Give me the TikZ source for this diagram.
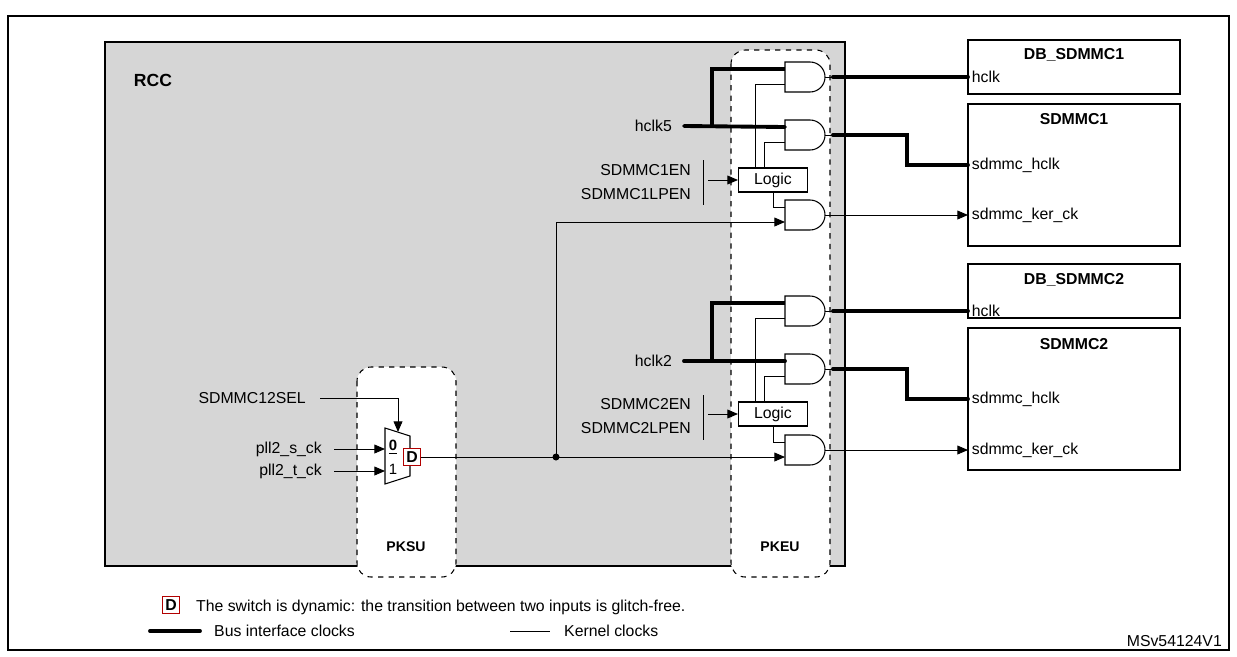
\documentclass[tikz,border=0pt]{standalone}
\usepackage{fontspec}
\setmainfont{Liberation Sans}
\usetikzlibrary{arrows.meta, positioning}

% and gate drawn at left edge x, centre y; named coordinates for pins
\newcommand{\andgate}[3]{%
  \draw[fill=white,line width=0.6pt] (#2,#3-15) -- (#2+25,#3-15) arc[start angle=-90,end angle=90,radius=15] -- (#2,#3+15) -- cycle;
  \coordinate (#1a) at (#2,#3-8);
  \coordinate (#1b) at (#2,#3+7);
  \coordinate (#1o) at (#2+40,#3);
}

\begin{document}
\begin{tikzpicture}[x=0.02cm,y=-0.02cm,font=\fontsize{9}{10.8}\selectfont,
    bus/.style={line width=2.2pt},
    kern/.style={line width=0.5pt},
    arr/.style={-{Triangle[length=6pt,width=5pt]}},
    blk/.style={draw,line width=0.8pt,fill=white},
    unit/.style={draw,dashed,rounded corners=8pt,fill=white,line width=0.6pt},
    dbox/.style={draw=red!70!black,line width=0.8pt,fill=white,inner sep=1pt,minimum size=10pt,font=\fontsize{9}{10}\selectfont\bfseries}]
   \useasboundingbox (0,0) rectangle (1237,656);
   \draw[line width=0.6pt] (8,16) rectangle (1229,650);

   % RCC block and units
   \draw[line width=0.8pt,fill=black!16] (105,42) rectangle (845,566);
   \node[font=\fontsize{10}{11}\selectfont\bfseries] (rcc) at (153,80) {RCC};
   \draw[unit] (731,50) rectangle (830,577);
   \draw[unit] (357,367) rectangle (456,577);
   \node[font=\fontsize{8}{9}\selectfont\bfseries] (pkeu) at (780,547) {PKEU};
   \node[font=\fontsize{8}{9}\selectfont\bfseries] (pksu) at (406,547) {PKSU};

   % peripheral boxes
   \draw[blk] (968,40) rectangle (1180,94);
   \draw[blk] (968,104) rectangle (1180,246);
   \draw[blk] (968,264) rectangle (1180,318);
   \draw[blk] (968,328) rectangle (1180,470);
   \node[font=\fontsize{9}{10}\selectfont\bfseries] (db1) at (1074,55) {DB\_SDMMC1};
   \node[font=\fontsize{9}{10}\selectfont\bfseries] (sd1) at (1074,119) {SDMMC1};
   \node[font=\fontsize{9}{10}\selectfont\bfseries] (db2) at (1074,280) {DB\_SDMMC2};
   \node[font=\fontsize{9}{10}\selectfont\bfseries] (sd2) at (1074,344) {SDMMC2};
   \node[anchor=west,inner sep=2pt] (h1) at (968,77) {hclk};
   \node[anchor=west,inner sep=2pt] (sh1) at (968,165) {sdmmc\_hclk};
   \node[anchor=west,inner sep=2pt] (sk1) at (968,215) {sdmmc\_ker\_ck};
   \node[anchor=west,inner sep=2pt] (h2) at (968,311) {hclk};
   \node[anchor=west,inner sep=2pt] (sh2) at (968,399) {sdmmc\_hclk};
   \node[anchor=west,inner sep=2pt] (sk2) at (968,450) {sdmmc\_ker\_ck};

   % gates
   \andgate{g1}{785}{77}
   \andgate{g2}{785}{135}
   \andgate{g3}{785}{215}
   \andgate{g4}{785}{311}
   \andgate{g5}{785}{369}
   \andgate{g6}{785}{450}

   % logic blocks and enables
   \node[blk,line width=0.6pt,minimum width=1.38cm,minimum height=0.48cm,inner sep=1pt] (log1) at (773,180) {Logic};
   \node[blk,line width=0.6pt,minimum width=1.38cm,minimum height=0.48cm,inner sep=1pt] (log2) at (773,414) {Logic};
   \node[anchor=east] (en1) at (697,170) {SDMMC1EN};
   \node[anchor=east] (lp1) at (697,194) {SDMMC1LPEN};
   \node[anchor=east] (en2) at (697,404) {SDMMC2EN};
   \node[anchor=east] (lp2) at (697,428) {SDMMC2LPEN};
   \draw[kern] (703,160) -- (703,205);
   \draw[kern] (703,395) -- (703,440);
   \coordinate (b1) at (708,180);
   \coordinate (b2) at (708,414);
   \draw[kern,arr] (b1) -- (log1.west);
   \draw[kern,arr] (b2) -- (log2.west);

   % bus clocks
   \node[anchor=east] (hclk5) at (678,126) {hclk5};
   \node[anchor=east] (hclk2) at (678,361) {hclk2};
   \draw[bus,line cap=round] (hclk5.east) ++(6,0) -- (g2a);
   \draw[bus] (712,126) |- (g1a);
   \draw[bus,line cap=round] (hclk2.east) ++(6,0) -- (g5a);
   \draw[bus] (712,361) |- (g4a);

   % logic to gates
   \draw[kern] (log1.north -| 755,0) |- (g1b);
   \draw[kern] (log1.north -| 764,0) |- (g2b);
   \draw[kern] (log1.south) |- (g3a);
   \draw[kern] (log2.north -| 755,0) |- (g4b);
   \draw[kern] (log2.north -| 764,0) |- (g5b);
   \draw[kern] (log2.south) |- (g6a);

   % gate outputs
   \draw[bus,line cap=round] (g1o) ++(8,0) -- (h1.west);
   \draw[kern] (g1o) -- ++(8,0);
   \draw[bus,line cap=round] (g2o) ++(8,0) -- (907,135) |- (sh1.west);
   \draw[kern] (g2o) -- ++(8,0);
   \draw[kern,arr] (g3o) -- (sk1.west);
   \draw[bus,line cap=round] (g4o) ++(8,0) -- (h2.west);
   \draw[kern] (g4o) -- ++(8,0);
   \draw[bus,line cap=round] (g5o) ++(8,0) -- (907,369) |- (sh2.west);
   \draw[kern] (g5o) -- ++(8,0);
   \draw[kern,arr] (g6o) -- (sk2.west);

   % kernel mux
   \draw[fill=white,line width=0.6pt] (385,428) -- (410,436) -- (410,476) -- (385,484) -- cycle;
   \node[font=\fontsize{8.5}{9}\selectfont\bfseries,inner sep=0pt] (m0) at (393,447) {\underline{0}};
   \node[font=\fontsize{8.5}{9}\selectfont,inner sep=0pt] (m1) at (393,469) {1};
   \node[dbox] (md) at (412,457) {D};
   \node[anchor=east] (sel) at (312,398) {SDMMC12SEL};
   \node[anchor=east] (pll2s) at (328,449) {pll2\_s\_ck};
   \node[anchor=east] (pll2t) at (328,471) {pll2\_t\_ck};
   \coordinate (mt) at (398,432);
   \draw[kern,arr] (sel.east) ++(8,0) -| (mt);
   \draw[kern,arr] (pll2s.east) ++(6,0) -- (385,449);
   \draw[kern,arr] (pll2t.east) ++(6,0) -- (385,471);
   \coordinate (jn) at (556,457);
   \draw[kern,arr] (md.east) -- (g6b);
   \draw[kern,arr] (jn) |- (g3b);
   \fill (jn) circle (3.5);

   % legend
   \node[dbox] (ld) at (171,605) {D};
   \node[anchor=west] (lt) at (190,607) {The switch is dynamic: the transition between two inputs is glitch-free.};
   \coordinate (l1a) at (150,631);
   \coordinate (l1b) at (200,631);
   \draw[bus,line cap=round] (l1a) -- (l1b);
   \node[anchor=west] (lbus) at (208,631) {Bus interface clocks};
   \coordinate (l2a) at (510,631);
   \coordinate (l2b) at (550,631);
   \draw[kern] (l2a) -- (l2b);
   \node[anchor=west] (lker) at (558,631) {Kernel clocks};
   \node[anchor=east] (ref) at (1228,641) {MSv54124V1};
\end{tikzpicture}
\end{document}
